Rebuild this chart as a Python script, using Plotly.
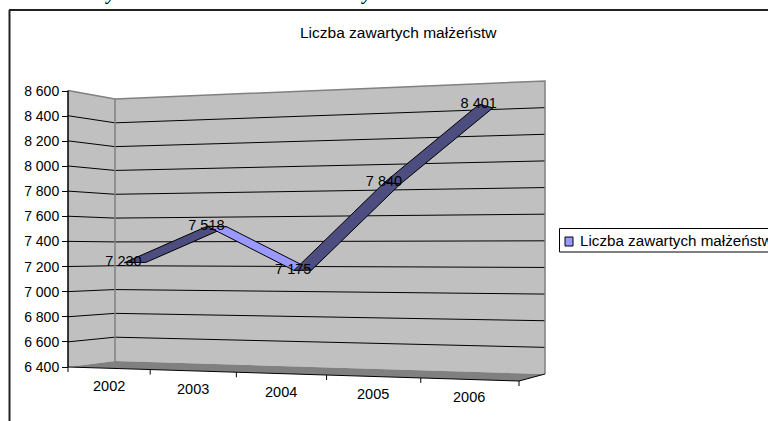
import plotly.graph_objects as go

years = ["2002", "2003", "2004", "2005", "2006"]
marriages = [7230, 7518, 7175, 7840, 8401]
value_ticks = [6400, 6600, 6800, 7000, 7200, 7400, 7600, 7800, 8000, 8200, 8400, 8600]
tick_labels = ["6 400", "6 600", "6 800", "7 000", "7 200", "7 400", "7 600", "7 800", "8 000", "8 200", "8 400", "8 600"]
title = "Liczba zawartych małżeństw"

W, H = 768, 421
VMIN, VMAX = 6400, 8600
FONT = "Liberation Sans"
N = len(years)
UNITS_PER_PX = (VMAX - VMIN) / 276.0


def xfrac(u):
    return (80 * u + 2 * u * u) / 450.0


def project(u, w, v):
    """Oblique-perspective projection of (category position, depth, value) to screen."""
    f = xfrac(u)
    x_front, x_back = 68 + 451 * f, 115 + 430 * f
    bot_front, bot_back = 367 + 14 * f, 361 + 13 * f
    top_back = 99 - 18 * f
    h_back = bot_back - top_back
    h_front = h_back * 1.055
    k = (v - VMIN) / (VMAX - VMIN)
    y_front = bot_front - k * h_front
    y_back = bot_back - k * h_back
    return x_front + (x_back - x_front) * w, y_front + (y_back - y_front) * w


def to_axes(pts):
    """Screen position to axis units: x in pixels, y in the value axis scale."""
    xs = [p[0] for p in pts]
    ys = [VMIN + (367 - p[1]) * UNITS_PER_PX for p in pts]
    return xs, ys


fig = go.Figure()


def poly(pts, fill, line="rgba(0,0,0,0)", width=1):
    xs, ys = to_axes(pts + pts[:1])
    fig.add_trace(go.Scatter(x=xs, y=ys, mode="lines", fill="toself", fillcolor=fill,
                             line=dict(color=line, width=width), hoverinfo="skip", showlegend=False))


def path(pts, color, width=1):
    xs, ys = to_axes(pts)
    fig.add_trace(go.Scatter(x=xs, y=ys, mode="lines", line=dict(color=color, width=width),
                             hoverinfo="skip", showlegend=False))


# walls
poly([project(0, 0, VMIN), project(0, 1, VMIN), project(0, 1, VMAX), project(0, 0, VMAX)], "#c0c0c0")
poly([project(0, 1, VMIN), project(N, 1, VMIN), project(N, 1, VMAX), project(0, 1, VMAX)], "#c0c0c0")

# floor
poly([project(0, 0, VMIN), project(0, 1, VMIN), project(N, 1, VMIN), project(N, 0, VMIN)], "#808080")

# gridlines
for v in value_ticks:
    if v in (VMIN, VMAX):
        continue
    path([project(0, 0, v), project(0, 1, v), project(N, 1, v)], "#000000")

# wall edges
path([project(0, 0, VMAX), project(0, 1, VMAX), project(N, 1, VMAX), project(N, 1, VMIN)], "#808080", 1.5)
path([project(0, 1, VMAX), project(0, 1, VMIN)], "#808080", 1.5)
path([project(0, 0, VMAX), project(0, 0, VMIN)], "#000000", 1.5)

# front floor edges and ticks
path([project(0, 0, VMIN), project(N, 0, VMIN), project(N, 1, VMIN)], "#000000")
for i in range(N + 1):
    px, py = project(i, 0, VMIN)
    path([(px, py), (px, py + 5)], "#000000")

# ribbon
W_FRONT, W_BACK = 0.35, 0.83
for i in range(N - 1):
    a, b = marriages[i], marriages[i + 1]
    shade = "#9999ff" if b < a else "#4d4d80"
    poly([project(i + .5, W_FRONT, a), project(i + 1.5, W_FRONT, b),
          project(i + 1.5, W_BACK, b), project(i + .5, W_BACK, a)], shade, "#000000", 1)

# data labels
lx, ly = to_axes([project(i + .5, 0.33, v) for i, v in enumerate(marriages)])
fig.add_trace(go.Scatter(x=lx, y=ly, mode="text", textposition="middle center",
                         text=[f"{v // 1000} {v % 1000:03d}" for v in marriages],
                         textfont=dict(family=FONT, size=14.5, color="#000000"),
                         cliponaxis=False, hoverinfo="skip", showlegend=False))

# category labels
cx, cy = to_axes([project(i + .5, 0, VMIN) for i in range(N)])
annotations = [dict(x=x, y=y, xref="x", yref="y", text=t, showarrow=False, yshift=-18,
                    font=dict(family=FONT, size=14.5, color="#000000"))
               for x, y, t in zip(cx, cy, years)]

# chart title, legend text, and the heading above the frame cropped by the page edge
annotations += [
    dict(x=398.5 / W, y=1 - 32 / H, xref="paper", yref="paper", yanchor="middle", text=title, showarrow=False,
         font=dict(family=FONT, size=15.5, color="#000000")),
    dict(x=578 / W, y=1 - 240 / H, xref="paper", yref="paper", xanchor="left", yanchor="middle", text=title, showarrow=False,
         font=dict(family=FONT, size=15.2, color="#000000")),
    dict(x=103 / W, y=1, xref="paper", yref="paper", yanchor="middle", yshift=6, text="<b><i>y</i></b>", showarrow=False,
         font=dict(family="Liberation Serif", size=18, color="#000000")),
    dict(x=366 / W, y=1, xref="paper", yref="paper", yanchor="middle", yshift=6, text="<b><i>y</i></b>", showarrow=False,
         font=dict(family="Liberation Serif", size=18, color="#000000")),
]

shapes = [
    dict(type="line", xref="paper", yref="paper", x0=9.5 / W, x1=9.5 / W, y0=0, y1=1 - 10 / H,
         line=dict(color="#222222", width=2)),
    dict(type="line", xref="paper", yref="paper", x0=9 / W, x1=1, y0=1 - 10 / H, y1=1 - 10 / H,
         line=dict(color="#222222", width=2)),
    dict(type="rect", xref="paper", yref="paper", x0=559.5 / W, x1=800 / W, y0=1 - 228.5 / H, y1=1 - 252 / H,
         line=dict(color="#000000", width=1), fillcolor="#ffffff", layer="below"),
    dict(type="rect", xref="paper", yref="paper", x0=565 / W, x1=573 / W, y0=1 - 237 / H, y1=1 - 246 / H,
         line=dict(color="#000000", width=1), fillcolor="#9999ff"),
]

fig.update_layout(
    width=W, height=H, margin=dict(l=0, r=0, t=0, b=0), autosize=False,
    paper_bgcolor="#ffffff", plot_bgcolor="#ffffff", showlegend=False,
    annotations=annotations, shapes=shapes,
    xaxis=dict(range=[0, W], visible=False, fixedrange=True),
    yaxis=dict(range=[VMIN - 54 * UNITS_PER_PX, VMIN + 367 * UNITS_PER_PX],
               anchor="free", position=68 / W, tickmode="array", tickvals=value_ticks, ticktext=tick_labels,
               ticks="outside", ticklen=6, tickcolor="#000000", tickwidth=1,
               showgrid=False, zeroline=False, showline=False, fixedrange=True,
               tickfont=dict(family=FONT, size=14, color="#000000")),
)

fig.write_html("out.html", config=dict(displayModeBar=False),
               post_script="document.body.style.margin='0';document.body.style.overflow='hidden';")
